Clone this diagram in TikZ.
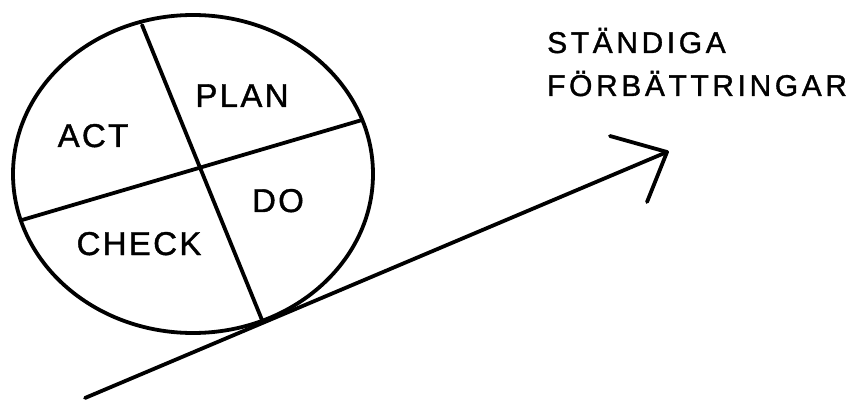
\documentclass[tikz,border=0pt]{standalone}
\usepackage{fontspec}
\setmainfont{Liberation Sans}
\newfontfamily\lblfont[LetterSpace=7,FakeBold=1.2]{Liberation Sans}
\newfontfamily\ttlfont[LetterSpace=12,FakeBold=1.2]{Liberation Sans}
\begin{document}
\begin{tikzpicture}[x=1pt,y=-1pt,
  stroke/.style={line width=3.8pt,line cap=round,line join=round},
  seglabel/.style={anchor=base,inner sep=0pt,font=\lblfont\fontsize{33}{36}\selectfont},
  ttl/.style={anchor=base west,inner sep=0pt,font=\ttlfont\fontsize{30}{34}\selectfont}]
\useasboundingbox (0,0) rectangle (855,401);
% cycle ellipse
\draw[stroke] (193,174) ellipse [x radius=180, y radius=159];
\coordinate (l1a) at (142,25);
\coordinate (l1b) at (262,320);
\coordinate (l2a) at (22,220);
\coordinate (l2b) at (362,120);
\draw[stroke] (l1a) -- (l1b);
\draw[stroke] (l2a) -- (l2b);
\node[seglabel] (plan) at (242,107) {PLAN};
\node[seglabel] (act) at (93,147) {ACT};
\node[seglabel] (do) at (278,212) {DO};
\node[seglabel] (check) at (139,255) {CHECK};
% arrow
\coordinate (as) at (85,398);
\coordinate (at) at (667,152);
\coordinate (b1) at (610,136);
\coordinate (b2) at (647,202);
\draw[stroke] (as) -- (at);
\draw[stroke] (b1) -- (at) -- (b2);
\node[ttl] (t1) at (547,53) {STÄNDIGA};
\node[ttl] (t2) at (547,96) {FÖRBÄTTRINGAR};
\end{tikzpicture}
\end{document}
